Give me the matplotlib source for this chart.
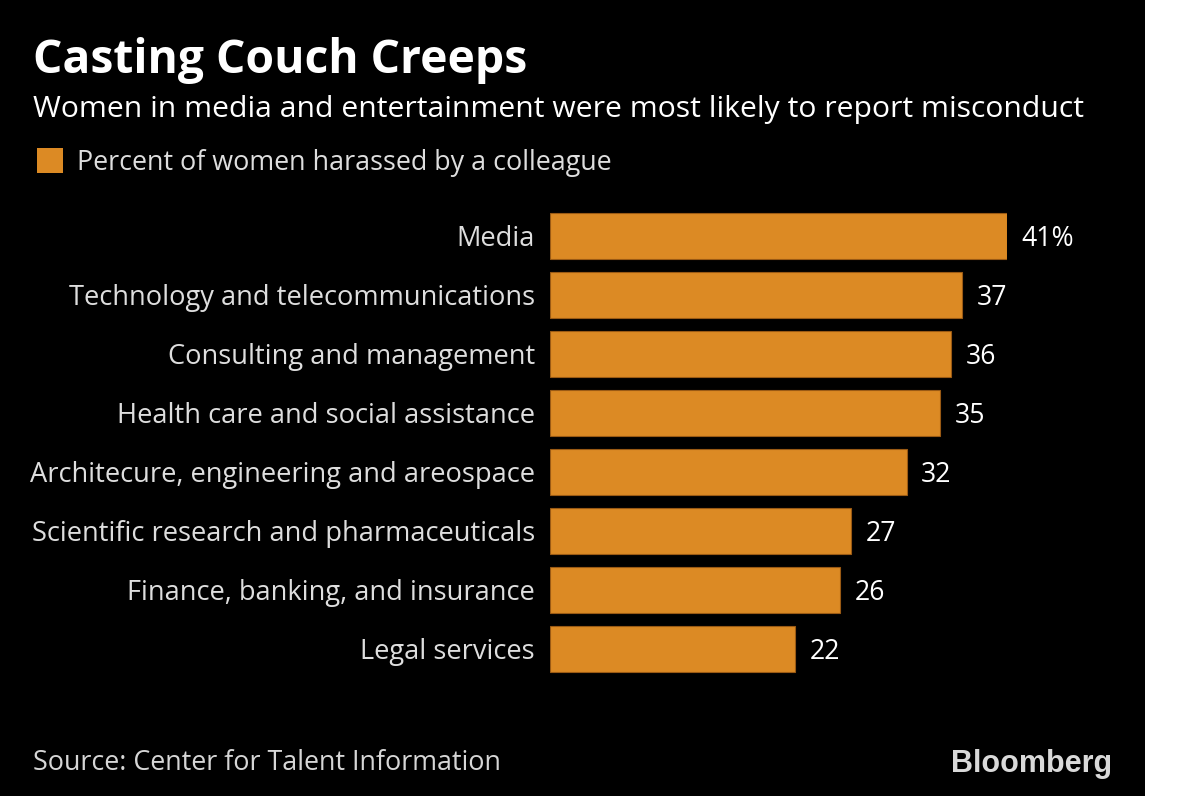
import matplotlib.pyplot as plt
from matplotlib.patches import Rectangle

# Data
categories = [
    "Media",
    "Technology and telecommunications",
    "Consulting and management",
    "Health care and social assistance",
    "Architecure, engineering and areospace",
    "Scientific research and pharmaceuticals",
    "Finance, banking, and insurance",
    "Legal services",
]
values = [41, 37, 36, 35, 32, 27, 26, 22]
value_labels = ["41%", "37", "36", "35", "32", "27", "26", "22"]

W, H = 1200, 796
BAR = '#dc8a24'
FONT = 'Open Sans'

fig = plt.figure(figsize=(W / 100, H / 100), dpi=100)
fig.patch.set_facecolor('black')

# white strip on the right
fig.patches.append(Rectangle((1145 / W, 0), 1 - 1145 / W, 1, transform=fig.transFigure,
                             facecolor='white', edgecolor='none', zorder=0))


def fx(px):
    return px / W


def fy(py):
    return 1 - py / H


# main axes: x from 550px to 1007px (0..41), rows centred 236..649
top, bottom = 236 - 29.5, 649 + 29.5
ax = fig.add_axes([fx(550), fy(bottom), fx(1007) - fx(550), (bottom - top) / H])
ax.set_facecolor('none')
ax.set_zorder(2)
ypos = list(range(len(categories)))
ax.barh(ypos, values, height=0.77, color=BAR, edgecolor='#9a5a14', linewidth=0.8)
ax.set_xlim(0, 41)
ax.set_ylim(len(categories) - 0.5, -0.5)
ax.axis('off')

for y, v, lab, cat in zip(ypos, values, value_labels, categories):
    ax.text(v + 1.3, y + 0.05, lab, color='white', fontsize=19.2, family=FONT,
            va='center', ha='left')
    ax.text(-1.35, y + 0.05, cat, color='#dedede', fontsize=19.6, family=FONT,
            va='center', ha='right')

# titles
fig.text(fx(33), fy(73), "Casting Couch Creeps", color='white', fontsize=33.3,
         fontweight='bold', family=FONT, va='baseline')
fig.text(fx(33), fy(117), "Women in media and entertainment were most likely to report misconduct",
         color='white', fontsize=21.7, family=FONT, va='baseline')

# legend
fig.patches.append(Rectangle((fx(37), fy(173)), fx(26), 25 / H, transform=fig.transFigure,
                             facecolor=BAR, edgecolor='none', zorder=2))
fig.text(fx(77), fy(170), "Percent of women harassed by a colleague", color='#dedede',
         fontsize=19.4, family=FONT, va='baseline')

# footer
fig.text(fx(33), fy(770), "Source: Center for Talent Information", color='#d6d6d6',
         fontsize=19.4, family=FONT, va='baseline')
fig.text(fx(1112), fy(772), "Bloomberg", color='#d9d9d9', fontsize=22,
         fontweight='bold', family='Liberation Sans', va='baseline', ha='right')

fig.savefig('out.png', dpi=100, facecolor=fig.get_facecolor())
